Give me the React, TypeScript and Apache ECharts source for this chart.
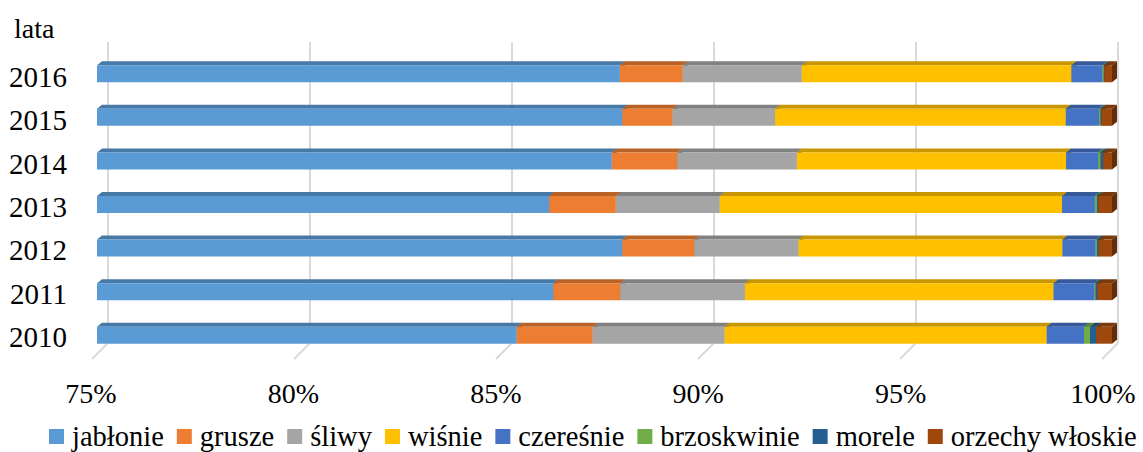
import React, { useEffect, useRef } from "react";
import * as echarts from "echarts";

const years = ["2010", "2011", "2012", "2013", "2014", "2015", "2016"];
const tickValues = [75, 80, 85, 90, 95, 100];

const seriesNames = ["jabłonie", "grusze", "śliwy", "wiśnie", "czereśnie", "brzoskwinie", "morele", "orzechy włoskie"];
const seriesColors = ["#5B9BD5", "#ED7D31", "#A5A5A5", "#FFC000", "#4472C4", "#70AD47", "#255E91", "#9E480E"];

const jablonie = [85.34, 86.24, 87.94, 86.14, 87.68, 87.94, 87.88];
const grusze = [1.87, 1.65, 1.77, 1.64, 1.61, 1.24, 1.55];
const sliwy = [3.25, 3.07, 2.57, 2.56, 2.95, 2.52, 2.93];
const wisnie = [7.93, 7.6, 6.5, 8.43, 6.63, 7.16, 6.64];
const czeresnie = [0.92, 1.01, 0.82, 0.81, 0.79, 0.82, 0.77];
const brzoskwinie = [0.15, 0.03, 0.03, 0.05, 0.06, 0.04, 0.03];
const morele = [0.15, 0.04, 0.04, 0.03, 0.06, 0.02, 0.01];
const orzechy = [0.39, 0.36, 0.33, 0.34, 0.22, 0.26, 0.19];

const seriesValues = [jablonie, grusze, sliwy, wisnie, czeresnie, brzoskwinie, morele, orzechy];

const FONT = "Liberation Serif";

function shade(hex: string, f: number): string {
  const n = parseInt(hex.slice(1), 16);
  const r = Math.round(((n >> 16) & 255) * f);
  const g = Math.round(((n >> 8) & 255) * f);
  const b = Math.round((n & 255) * f);
  return "rgb(" + r + "," + g + "," + b + ")";
}

export default function App() {
  const ref = useRef<HTMLDivElement>(null);

  useEffect(() => {
    document.body.style.margin = "0";
    if (!ref.current) return;
    const chart = echarts.init(ref.current, null, { renderer: "svg" });

    const cum = years.map(() => 0);
    const barSeries = seriesValues.map((vals, si) => {
      const data = vals.map((v, ci) => {
        const start = cum[ci];
        const end = start + v;
        cum[ci] = end;
        return [start, end, ci];
      });
      const color = seriesColors[si];
      const topC = shade(color, 0.78);
      const sideC = shade(color, 0.62);
      return {
        type: "custom",
        name: seriesNames[si],
        xAxisIndex: 0,
        yAxisIndex: 0,
        itemStyle: { color },
        encode: { x: [0, 1], y: 2 },
        data,
        renderItem: (params: any, api: any) => {
          const s = api.value(0);
          const e = api.value(1);
          const c = api.value(2);
          const p0 = api.coord([s, c]);
          const p1 = api.coord([e, c]);
          const minX = params.coordSys.x;
          const x0 = Math.max(p0[0], minX);
          const x1 = p1[0];
          const h = 17;
          const dx = 5;
          const dy = 4;
          const yT = p0[1] - h / 2 + 2;
          const yB = yT + h;
          return {
            type: "group",
            children: [
              {
                type: "polygon",
                shape: { points: [[x0, yT], [x0 + dx, yT - dy], [x1 + dx, yT - dy], [x1, yT]] },
                style: { fill: topC },
              },
              {
                type: "polygon",
                shape: { points: [[x1, yT], [x1 + dx, yT - dy], [x1 + dx, yB - dy], [x1, yB]] },
                style: { fill: sideC },
              },
              {
                type: "rect",
                shape: { x: x0, y: yT, width: Math.max(x1 - x0, 0), height: h },
                style: { fill: color },
              },
            ],
          };
        },
      };
    });

    const floorSeries = {
      type: "custom",
      name: "floor",
      xAxisIndex: 1,
      yAxisIndex: 1,
      silent: true,
      data: tickValues.map((v) => [v, 0]),
      encode: { x: 0, y: 1 },
      renderItem: (params: any, api: any) => {
        const p = api.coord([api.value(0), 0]);
        return {
          type: "line",
          shape: { x1: p[0], y1: p[1], x2: p[0] - 16, y2: p[1] + 16 },
          style: { stroke: "#D9D9D9", lineWidth: 2 },
        };
      },
    };

    chart.setOption({
      animation: false,
      backgroundColor: "#ffffff",
      textStyle: { fontFamily: FONT },
      title: {
        text: "lata",
        left: 9,
        top: 9,
        textStyle: { fontFamily: FONT, fontSize: 28, fontWeight: "normal", color: "#000" },
      },
      legend: {
        data: seriesNames.map((n) => ({ name: n, icon: "rect" })),
        left: 49,
        top: 422,
        width: 1140,
        padding: 0,
        itemWidth: 15,
        itemHeight: 15,
        itemGap: 13,
        textStyle: { fontFamily: FONT, fontSize: 28.5, color: "#000", padding: [0, 0, 0, 3] },
      },
      grid: [
        { left: 97, right: 31, top: 50, bottom: 97 },
        { left: 108, right: 25, top: 42, bottom: 109 },
        { left: 91, right: 40, top: 55, bottom: 93 },
      ],
      xAxis: [
        { gridIndex: 0, type: "value", min: 75, max: 100, interval: 5, show: false },
        {
          gridIndex: 1,
          type: "value",
          min: 75,
          max: 100,
          interval: 5,
          axisLabel: { show: false },
          axisLine: { show: false },
          axisTick: { show: false },
          splitLine: { show: true, lineStyle: { color: "#D9D9D9", width: 2 } },
        },
        {
          gridIndex: 2,
          type: "value",
          min: 75,
          max: 100,
          interval: 5,
          axisLine: { show: false },
          axisTick: { show: false },
          splitLine: { show: false },
          axisLabel: {
            formatter: "{value}%",
            margin: 20,
            fontFamily: FONT,
            fontSize: 28,
            color: "#000",
          },
        },
      ],
      yAxis: [
        { gridIndex: 0, type: "category", data: years, show: false },
        { gridIndex: 1, type: "value", min: 0, max: 1, show: false },
        {
          gridIndex: 2,
          type: "category",
          data: years,
          axisLine: { show: false },
          axisTick: { show: false },
          splitLine: { show: false },
          axisLabel: { margin: 24, fontFamily: FONT, fontSize: 29, color: "#000" },
        },
      ],
      series: [floorSeries, ...barSeries],
    });

    return () => {
      chart.dispose();
    };
  }, []);

  return <div ref={ref} style={{ width: 1143, height: 452 }} />;
}
